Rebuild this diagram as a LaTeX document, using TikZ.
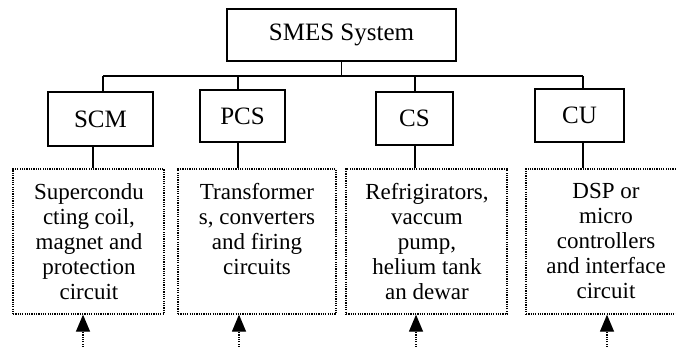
\documentclass[tikz,border=0pt]{standalone}
\usepackage{fontspec}
\setmainfont{Liberation Serif}
\usetikzlibrary{arrows.meta}
\begin{document}
\begin{tikzpicture}[x=1pt,y=-1pt,
  hbox/.style={draw, line width=1.1pt, inner sep=0pt, font=\fontsize{25}{30}\selectfont},
  dbox/.style={draw, line width=1.3pt, dash pattern=on 1.2pt off 1.1pt, inner sep=0pt},
  body/.style={align=center, inner sep=0pt, font=\fontsize{23}{25}\selectfont},
  conn/.style={line width=1.1pt},
  arr/.style={line width=1.3pt, dash pattern=on 1.2pt off 1.1pt, -{Triangle[length=17pt,width=14pt]}}
]
\clip (0,0) rectangle (676,347);
\fill[white] (0,0) rectangle (676,347);

% header boxes
\node[hbox, minimum width=229pt, minimum height=52pt] (smes) at (341.5,35) {SMES System};
\node[hbox, minimum width=105pt, minimum height=54pt] (scm) at (100.5,119) {SCM};
\node[hbox, minimum width=85pt, minimum height=52pt] (pcs) at (242.5,116) {PCS};
\node[hbox, minimum width=77pt, minimum height=53pt] (cs) at (414.5,118.5) {CS};
\node[hbox, minimum width=89pt, minimum height=53pt] (cu) at (579.5,115.5) {CU};

% dotted boxes
\node[dbox, minimum width=151pt, minimum height=145pt] (d1) at (88.5,241.5) {};
\node[dbox, minimum width=158pt, minimum height=145pt] (d2) at (257,241.5) {};
\node[dbox, minimum width=161pt, minimum height=145pt] (d3) at (426.5,241.5) {};
\node[dbox, minimum width=160pt, minimum height=145pt] (d4) at (606,241.5) {};

% texts
\node[body, anchor=north] (t1) at (89,183) {Supercondu\\cting coil,\\magnet and\\protection\\circuit};
\node[body, anchor=north] (t2) at (257,183) {Transformer\\s, converters\\and firing\\circuits};
\node[body, anchor=north] (t3) at (427,183) {Refrigirators,\\vaccum\\pump,\\helium tank\\an dewar};
\node[body, anchor=north] (t4) at (606,183) {DSP or\\micro\\controllers\\and interface\\circuit};

% bus
\coordinate (b1) at (103,76);
\coordinate (b2) at (238,76);
\coordinate (b3) at (415,76);
\coordinate (b4) at (583,76);
\draw[conn] (smes.south) -- (smes.south |- b1);
\draw[conn] (b1) -- (b4);
\draw[conn] (b1) -- (b1 |- scm.north);
\draw[conn] (b2) -- (b2 |- pcs.north);
\draw[conn] (b3) -- (b3 |- cs.north);
\draw[conn] (b4) -- (b4 |- cu.north);

% lower drops
\coordinate (l1) at (93,0);
\coordinate (l2) at (238,0);
\coordinate (l3) at (415,0);
\coordinate (l4) at (583,0);
\draw[conn] (l1 |- scm.south) -- (l1 |- d1.north);
\draw[conn] (l2 |- pcs.south) -- (l2 |- d2.north);
\draw[conn] (l3 |- cs.south) -- (l3 |- d3.north);
\draw[conn] (l4 |- cu.south) -- (l4 |- d4.north);

% input arrows
\coordinate (a1) at (83,347);
\coordinate (a2) at (239,347);
\coordinate (a3) at (416,347);
\coordinate (a4) at (607,347);
\draw[arr] (a1) -- (a1 |- d1.south);
\draw[arr] (a2) -- (a2 |- d2.south);
\draw[arr] (a3) -- (a3 |- d3.south);
\draw[arr] (a4) -- (a4 |- d4.south);
\end{tikzpicture}
\end{document}
